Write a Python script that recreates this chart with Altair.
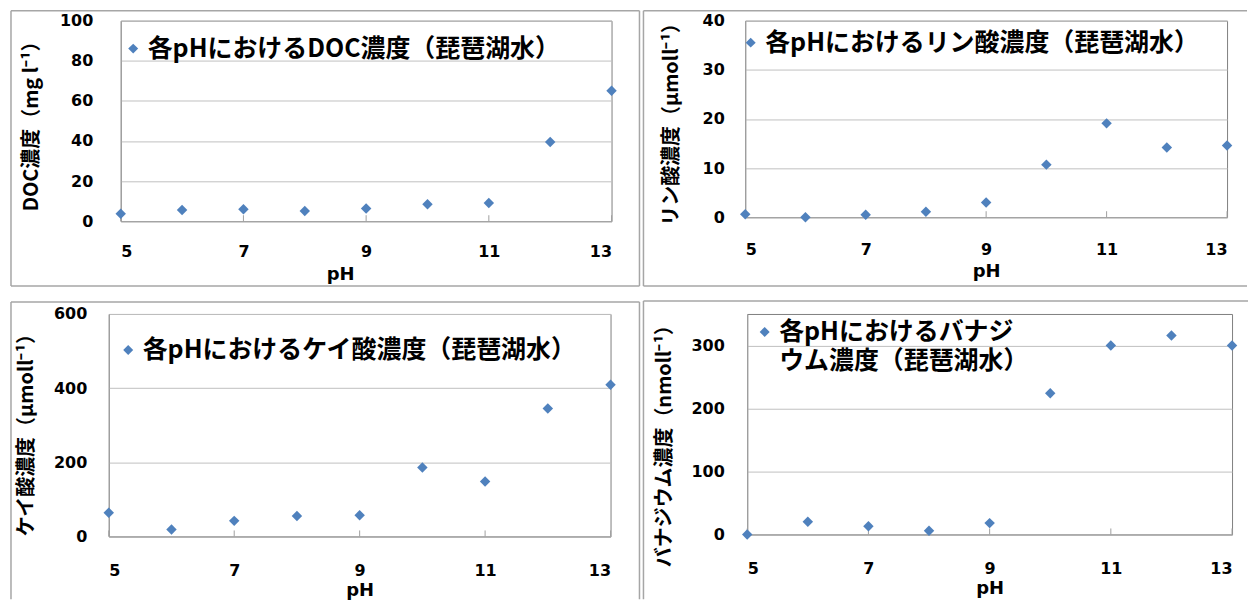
import altair as alt
import pandas as pd

# ---- data ----
ph = [5, 6, 7, 8, 9, 10, 11, 12, 13]
doc = [3.7, 5.6, 6.0, 5.1, 6.3, 8.5, 9.1, 39.5, 65.1]
phosphate = [0.6, 0.0, 0.5, 1.1, 3.0, 10.7, 19.1, 14.2, 14.6]
silicate = [64, 19, 42, 55, 57, 186, 148, 345, 409]
vanadium = [0, 20, 13, 6, 18, 224, 300, 316, 300]

x_ticks = [5, 7, 9, 11, 13]
series_names = [
    "各pHにおけるDOC濃度（琵琶湖水）",
    "各pHにおけるリン酸濃度（琵琶湖水）",
    "各pHにおけるケイ酸濃度（琵琶湖水）",
    "各pHにおけるバナジ\nウム濃度（琵琶湖水）",
]
y_titles = [
    "DOC濃度（mg l⁻¹）",
    "リン酸濃度（μmoll⁻¹）",
    "ケイ酸濃度（μmoll⁻¹）",
    "バナジウム濃度（nmoll⁻¹）",
]
y_domains = [[0, 100], [0, 40], [0, 600], [0, 350]]
y_tick_values = [[0, 20, 40, 60, 80, 100], [0, 10, 20, 30, 40], [0, 200, 400, 600], [0, 100, 200, 300]]

BLUE = "#4F81BD"
BORDER = "#A6A6A6"
AXIS = "#A0A0A0"
JP = "Noto Sans CJK JP"
LAT = "DejaVu Sans"

one = pd.DataFrame({"k": [0]})


def panel(values, name, ytitle, ydom, yticks, W, H, lay):
    df = pd.DataFrame({"pH": ph, "value": values, "series": [name] * len(ph)})
    leg = dict(
        orient="none", legendX=lay["legX"], legendY=lay["legY"], title=None,
        symbolType="diamond", symbolSize=100, symbolStrokeWidth=0,
        labelFont=JP, labelFontSize=25, labelFontWeight="bold", labelColor="black",
        labelLimit=800, labelOffset=2, padding=0,
    )
    if "\n" in name:
        leg["labelExpr"] = "split(datum.label, '\\n')"
    xax = dict(values=x_ticks, format="d", title="pH", grid=False, ticks=False,
               labelFont=LAT, labelFontSize=16, labelFontWeight="bold",
               labelPadding=lay["xlp"], titlePadding=lay["xtp"],
               titleFont=LAT, titleFontSize=18, titleFontWeight="bold")
    if "xtitleX" in lay:
        xax["titleX"] = lay["xtitleX"]
    yax = dict(values=yticks, title=ytitle, ticks=False,
               labelFont=LAT, labelFontSize=16, labelFontWeight="bold",
               labelPadding=lay["ylp"], titleX=lay["ytx"], titleBaseline="middle",
               titleFont=JP, titleFontSize=20, titleFontWeight="bold")
    if "yty" in lay:
        yax["titleY"] = lay["yty"]
    xenc = alt.X("pH:Q", scale=alt.Scale(domain=[5, 13], nice=False, zero=False), axis=alt.Axis(**xax))
    pts = alt.Chart(df).mark_point(shape="diamond", filled=True, size=110, opacity=1).encode(
        x=xenc,
        y=alt.Y("value:Q", scale=alt.Scale(domain=ydom, nice=False), axis=alt.Axis(**yax)),
        color=alt.Color("series:N", scale=alt.Scale(range=[BLUE]), legend=alt.Legend(**leg)),
    )
    # inside tick marks on the x axis
    ticks = alt.Chart(pd.DataFrame({"pH": x_ticks})).mark_rule(color=AXIS, strokeWidth=1).encode(
        x=xenc, y=alt.value(H - 6), y2=alt.value(H)
    )
    layers = [ticks, pts]
    for (x1, x2, y1, y2) in lay["lines"]:
        enc = dict(x=alt.value(x1), y=alt.value(y1))
        if x2 != x1:
            enc["x2"] = alt.value(x2)
        if y2 != y1:
            enc["y2"] = alt.value(y2)
        layers.append(alt.Chart(one).mark_rule(color=BORDER, strokeWidth=1.5).encode(**enc))
    return alt.layer(*layers).properties(width=W, height=H)


def spacer():
    return alt.Chart(one).mark_rule(strokeWidth=0, opacity=0).encode(
        x=alt.value(0), x2=alt.value(1), y=alt.value(0)
    ).properties(width=1, height=1, view=alt.ViewBackground(strokeWidth=0, strokeOpacity=0))


p1 = panel(doc, series_names[0], y_titles[0], y_domains[0], y_tick_values[0], 492, 201, dict(
    legX=0, legY=15.5, xlp=22, xtp=6, xtitleX=220, ylp=28, ytx=-89,
    lines=[(-110, -110, -10, 266), (520, 520, -10, 266), (-110, 520, -10, -10), (-110, 520, 266, 266)]))
p2 = panel(phosphate, series_names[1], y_titles[1], y_domains[1], y_tick_values[1], 483, 197, dict(
    legX=-7, legY=9.5, xlp=24, xtp=5, ylp=21, ytx=-74,
    lines=[(-102, -102, -10, 266), (-102, 503, -10, -10), (-102, 503, 266, 266)]))
p3 = panel(silicate, series_names[2], y_titles[2], y_domains[2], y_tick_values[2], 503, 223, dict(
    legX=7, legY=23.5, xlp=26, xtp=3, ylp=22, ytx=-82, yty=116,
    lines=[(-98, -98, -12, 286), (532, 532, -12, 286), (-98, 532, -12, -12)]))
p4 = panel(vanadium, series_names[3], y_titles[3], y_domains[3], y_tick_values[3], 486, 221, dict(
    legX=5, legY=5.5, xlp=26, xtp=3, ylp=23, ytx=-83, yty=127,
    lines=[(-104, -104, -13, 286), (-104, 502, -13, -13)]))


def row(a, b):
    return alt.hconcat(spacer(), a, b, spacing=0).resolve_scale(
        x="independent", y="independent", color="independent"
    ).resolve_legend(color="independent")


chart = alt.vconcat(row(p1, p2), row(p3, p4), spacing=11).resolve_scale(
    x="independent", y="independent", color="independent"
).resolve_legend(color="independent").properties(padding=0).configure(
    style={"guide-label": {"lineHeight": 29}}
).configure_view(
    stroke="#808080", strokeWidth=1
).configure_axis(
    labelColor="black", titleColor="black", gridColor="#C0C0C0", domainColor=AXIS
)

chart.save("out.html", embed_options={"renderer": "svg", "actions": False})
